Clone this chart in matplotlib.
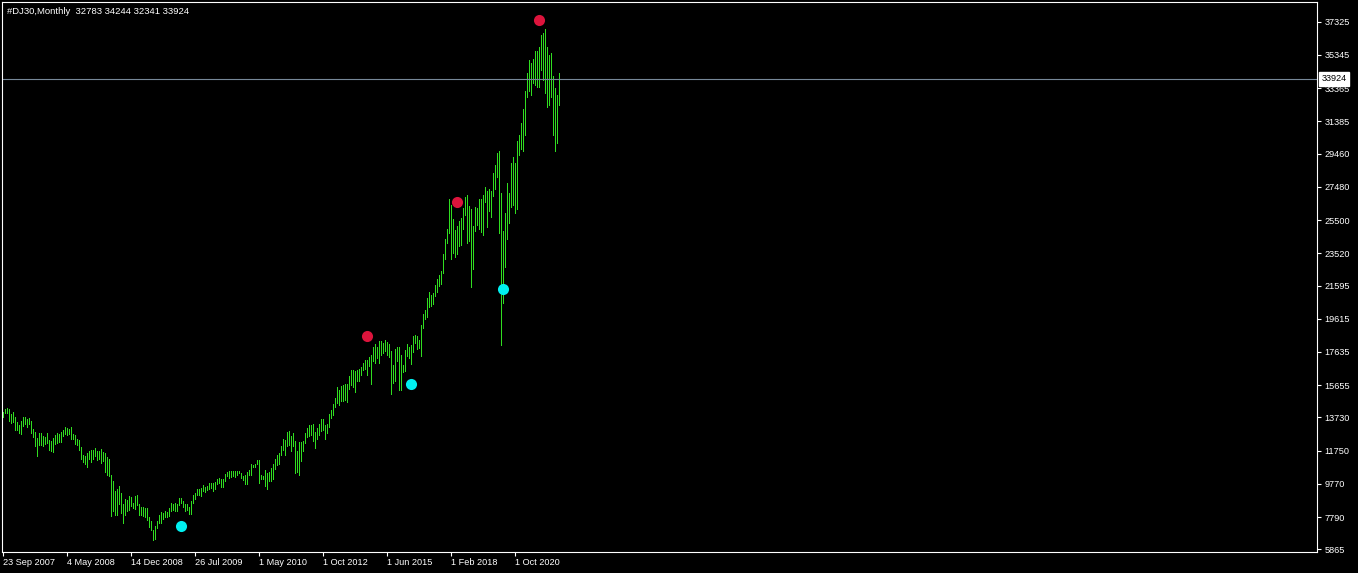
import matplotlib
matplotlib.use("Agg")
import matplotlib.pyplot as plt

symbol_title = "#DJ30,Monthly  32783 34244 32341 33924"
last_price = 33924

highs = [
  14052, 14211, 14291, 14211, 13933, 14052, 13734, 13456, 13297, 13535,
  13774, 13734, 13615, 13695, 13496, 13019, 12860, 12502, 12820, 12820,
  12621, 12541, 12820, 12382, 12303, 12502, 12701, 12820, 12740, 12860,
  12979, 13138, 13098, 13058, 13138, 12740, 12661, 12422, 12382, 11985,
  11508, 11428, 11587, 11707, 11786, 11786, 11905, 11707, 11746, 11866,
  11667, 11627, 11388, 11229, 10275, 9957, 9361, 9480, 9639, 9242,
  8566, 8884, 8804, 9043, 8963, 8645, 9043, 9122, 8566, 8407,
  8407, 8327, 8327, 7810,
  7571, 7015, 7254, 7571, 7890, 8088, 8049, 8128, 8088, 8327,
  8605, 8566, 8605, 8566, 8923, 8923, 8725, 8566, 8566, 8367,
  8725, 9083, 9202, 9440, 9440, 9520, 9679, 9560, 9639, 9798,
  9838, 9798, 9877, 10037, 10116, 10076, 10037, 10355, 10474, 10554,
  10514, 10554, 10514, 10514, 10554, 10434, 10235, 10275, 10474, 10593,
  10951, 10872, 10951, 11190, 11190, 10275, 10235, 10593, 10434, 10474,
  10713, 10951, 11229, 11468, 11627, 12025, 12422, 12382, 12860, 12899,
  12621, 12820,
  12302, 11706, 12262, 12262, 12302, 12779, 13097, 13256, 13256, 13336,
  12858, 13097, 13336, 13654, 13614, 13256, 13336, 13932, 14171, 14529,
  14886, 15522, 15363, 15602, 15642, 15721, 15721, 16198, 16556, 16556,
  16477, 16556, 16636, 16755, 16994, 17153, 17153, 17351, 17431, 17948,
  18107, 17948, 18266, 18305, 18147, 18345, 18226, 18107, 17669, 16874,
  17828, 17908, 17908, 17431, 16835, 17749, 18107, 17948, 18027, 18584,
  18663, 18584, 18345, 19220, 19900,
  20131, 20847, 21205, 21046, 21165, 21602, 21960, 22199, 22477, 23471,
  24386, 24982, 26771, 26374, 25578, 24903, 25141, 25459, 25618, 26215,
  26891, 27010, 26334, 26175, 25141, 26294, 26215, 26771, 26771, 27010,
  27487, 27209, 27368, 27249, 28282, 28799, 29475, 29634, 27129, 24863,
  25896, 27686, 27129, 28878, 29276, 28918, 30231, 30588, 31264, 32099,
  33213, 34246, 35041, 34882, 35121, 35598, 35598, 35837, 36552, 36672,
  36910, 35837, 35360, 35479, 34087, 33372, 32974, 34244,
]

lows = [
  13774, 13973, 14013, 13535, 13416, 13456, 12979, 12979, 12780, 12740,
  13217, 13337, 13178, 13337, 12820, 12541, 12025, 11428, 12104, 12064,
  12025, 12144, 12184, 11786, 11746, 11667, 12144, 12184, 12263, 12263,
  12621, 12740, 12701, 12740, 12462, 12422, 12144, 12064, 11786, 11269,
  11070, 10951, 10792, 11269, 11070, 11229, 11428, 11190, 11269, 11031,
  11110, 10474, 10275, 10236, 7850, 8168, 7929, 7890, 8566, 8009,
  7452, 7929, 8168, 8208, 8446, 8327, 8248, 8486, 7890, 7890,
  7850, 7770, 7611, 7214,
  7015, 6419, 6498, 7134, 7413, 7413, 7651, 7770, 7810, 7850,
  8168, 8208, 8168, 8128, 8486, 8645, 8367, 8128, 8208, 7969,
  7969, 8645, 8884, 9122, 9122, 9043, 9361, 9281, 9401, 9440,
  9520, 9361, 9440, 9758, 9798, 9599, 9599, 9957, 10235, 10116,
  10196, 10235, 10156, 10275, 10434, 10116, 9997, 9758, 9758, 10275,
  10315, 10752, 10792, 10951, 9838, 10037, 10076, 9639, 9480, 9957,
  9957, 10037, 10633, 10872, 10951, 11508, 11786, 11468, 12025, 12104,
  11746, 12025,
  10393, 10473, 10314, 11149, 11706, 12222, 12541, 12620, 12660, 12302,
  11904, 12421, 12700, 12938, 12978, 12461, 12779, 13177, 13694, 13893,
  14330, 14608, 14489, 14727, 14727, 14767, 14648, 15443, 15642, 15562,
  15244, 15920, 15920, 16238, 16556, 16596, 16238, 16795, 15721, 17073,
  16994, 17272, 16954, 17431, 17590, 17709, 17471, 17312, 15125, 15801,
  15920, 17073, 15363, 15363, 16437, 16516, 17391, 17272, 16914, 17630,
  18186, 17828, 17868, 17391, 19061,
  19614, 19734, 20330, 20370, 20489, 20966, 21205, 21563, 21682, 22358,
  23193, 24108, 24704, 23193, 23551, 23312, 23471, 23948, 23988, 24982,
  25777, 24108, 24267, 21483, 22597, 24863, 25221, 24982, 24783, 24624,
  26573, 25062, 26016, 25698, 26930, 27328, 28083, 24704, 18024, 20529,
  22716, 24386, 25300, 26255, 26414, 25936, 26175, 29356, 29753, 29594,
  30548, 32855, 33213, 32934, 33650, 33531, 33451, 33411, 34445, 33849,
  33054, 32219, 32338, 32855, 30588, 29634, 30111, 32341,
]

# fractal-like markers (bar index, price)
top_idx = [182, 227, 268]
top_val = [18566, 26545, 37397]
bottom_idx = [89, 204, 250]
bottom_val = [7254, 15740, 21369]

price_ticks = [5865, 7790, 9770, 11750, 13730, 15655, 17635, 19615, 21595,
               23520, 25500, 27480, 29460, 31385, 33365, 35345, 37325]
date_tick_idx = [0, 32, 64, 96, 128, 160, 192, 224, 256]
date_labels = ["23 Sep 2007", "4 May 2008", "14 Dec 2008", "26 Jul 2009", "1 May 2010",
               "1 Oct 2012", "1 Jun 2015", "1 Feb 2018", "1 Oct 2020"]

plt.rcParams['font.family'] = ['Liberation Sans', 'DejaVu Sans']
fs = 6.6
W, H = 1358, 573

fig = plt.figure(figsize=(W / 100, H / 100), dpi=100, facecolor='black')
ax = fig.add_axes([2 / W, (H - 552) / H, 1315 / W, 550 / H], facecolor='black')

x = list(range(len(highs)))
ax.vlines(x, lows, highs, colors='#30dd20', linewidth=0.72, antialiased=False)

ax.axhline(last_price, color='#778899', linewidth=0.8)

ax.plot(top_idx, top_val, 'o', ms=8, color='#dc143c', mec='none')
ax.plot(bottom_idx, bottom_val, 'o', ms=8, color='#00f0f0', mec='none')

ax.set_xlim(-0.65, 656.85)
ax.set_ylim(5704, 38500)

for s in ax.spines.values():
  s.set_color('white')
  s.set_linewidth(0.8)

ax.yaxis.tick_right()
ax.set_yticks(price_ticks)
ax.set_yticklabels([str(v) for v in price_ticks])
ax.set_xticks(date_tick_idx)
ax.set_xticklabels(date_labels)
plt.setp(ax.get_xticklabels(), ha='left')
ax.tick_params(axis='x', colors='white', labelsize=fs, length=3, width=0.8, pad=1.5)
ax.tick_params(axis='y', colors='white', labelsize=fs, length=3, width=0.8, pad=2.5)

# current price tag on the right scale
ax.text(1.0035, last_price, str(last_price), transform=ax.get_yaxis_transform(),
        ha='left', va='center', fontsize=fs, color='black', clip_on=False, zorder=10,
        bbox=dict(boxstyle='square,pad=0.25', facecolor='white', edgecolor='white'))

fig.text(7 / W, 1 - 11 / H, symbol_title, color='white', fontsize=6.8, ha='left', va='center')

fig.savefig('out.png', dpi=100, facecolor='black')
